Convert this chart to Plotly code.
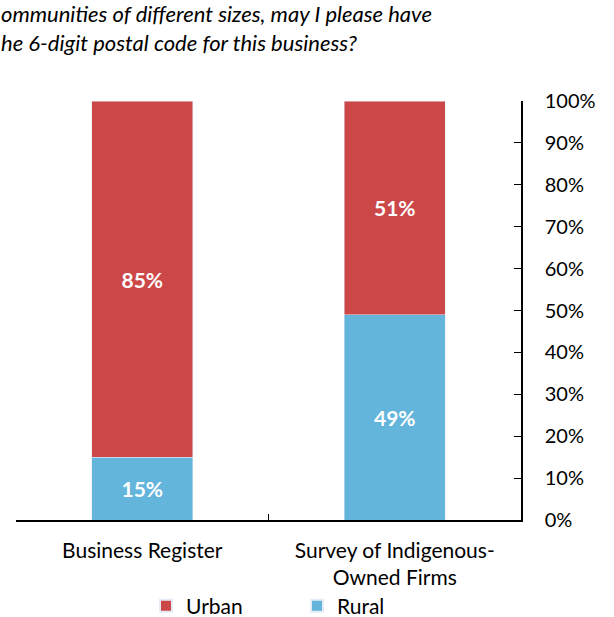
import plotly.graph_objects as go

categories = ["Business Register", "Survey of Indigenous-<br>Owned Firms"]
rural = [15, 49]
urban = [85, 51]
tick_vals = [0, 10, 20, 30, 40, 50, 60, 70, 80, 90, 100]
tick_text = [f"{v}%" for v in tick_vals]
title_text = "ommunities of different sizes, may I please have<br>he 6-digit postal code for this business?"

FONT = "Lato, Carlito, Calibri, sans-serif"
W, H = 614, 617
ML, MR, MT, MB = 16, 93, 101, 97
PW = W - ML - MR
PH = H - MT - MB

fig = go.Figure()
fig.add_trace(go.Bar(
    x=categories, y=rural, name="Rural", marker_color="#63B5DC",
    text=[f"{v}%" for v in rural], textposition="inside", insidetextanchor="middle",
    textfont=dict(color="white", size=21, family=FONT, weight="bold"),
))
fig.add_trace(go.Bar(
    x=categories, y=urban, name="Urban", marker_color="#CC4748",
    text=[f"{v}%" for v in urban], textposition="inside", insidetextanchor="middle",
    textfont=dict(color="white", size=21, family=FONT, weight="bold"),
))

fig.update_layout(
    width=W, height=H,
    margin=dict(l=ML, r=MR, t=MT, b=MB, autoexpand=False),
    barmode="stack", bargap=0.6,
    plot_bgcolor="white", paper_bgcolor="white",
    font=dict(family=FONT, size=21, color="black"),
    showlegend=True,
    legend=dict(orientation="h", x=(297 - ML) / PW, xanchor="center",
                y=-(606 - MT - PH) / PH, yanchor="middle",
                traceorder="reversed", entrywidth=106, entrywidthmode="pixels",
                font=dict(size=21), itemsizing="constant", itemwidth=30),
    xaxis=dict(showline=True, linecolor="black", linewidth=1.5, automargin=False,
               ticks="inside", tickson="boundaries", ticklen=6, tickcolor="black",
               ticklabelstandoff=11, tickfont=dict(size=21)),
    yaxis=dict(side="right", range=[0, 100], tickvals=tick_vals, ticktext=tick_text,
               showline=True, linecolor="black", linewidth=1.5, showgrid=False,
               automargin=False,
               ticks="inside", ticklen=7, tickcolor="black", ticklabelstandoff=18,
               zeroline=False, tickfont=dict(size=20)),
    annotations=[dict(
        text=title_text, xref="paper", yref="paper",
        x=(0 - ML) / PW, y=(PH + MT + 1) / PH, xanchor="left", yanchor="top",
        align="left", showarrow=False, borderpad=0,
        font=dict(size=22, family=FONT, style="italic"),
    )],
)

fig.write_html("out.html", config={"displayModeBar": False},
               post_script="document.body.style.margin='0px';document.body.style.overflow='hidden';")
